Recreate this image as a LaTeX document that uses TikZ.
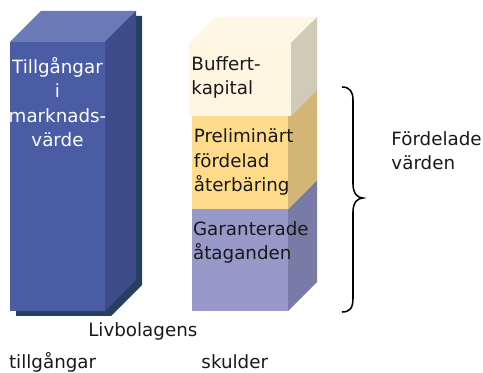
\documentclass[tikz,border=0pt]{standalone}
\usepackage{fontspec}
\setmainfont{DejaVu Sans}
\definecolor{assetfront}{HTML}{4A5CA3}
\definecolor{assettop}{HTML}{6A7BB8}
\definecolor{assetside}{HTML}{3D4B8B}
\definecolor{assetshadow}{HTML}{26405F}
\definecolor{bufffront}{HTML}{FFF5E1}
\definecolor{buffside}{HTML}{D1CAB6}
\definecolor{prelfront}{HTML}{FFDC8B}
\definecolor{prelside}{HTML}{D3B676}
\definecolor{garfront}{HTML}{9799C8}
\definecolor{garside}{HTML}{787BA5}
\begin{document}
\begin{tikzpicture}[
    lbl/.style={font=\fontsize{13}{17.5}\selectfont, anchor=base west, align=left, inner sep=0pt, text=black!90}
  ]
        \useasboundingbox (0,0) rectangle (12.075,9.3);

        % tillgangar
        \fill[assetshadow] (0.4,1.4) -- (2.775,1.4) -- (3.55,2.175) -- (3.55,8.9) -- (1.175,8.9) -- (0.4,8.125) -- cycle;
        \fill[assetfront] (0.25,1.525) rectangle (2.625,8.25);
        \fill[assettop] (0.25,8.25) -- (2.625,8.25) -- (3.4,9.025) -- (1.025,9.025) -- cycle;
        \fill[assetside] (2.625,1.525) -- (3.4,2.3) -- (3.4,9.025) -- (2.625,8.25) -- cycle;

        % skulder
        \fill[garfront] (4.8,1.525) rectangle (7.2,4.075);
        \fill[garside] (7.2,1.525) -- (7.925,2.25) -- (7.925,4.8) -- (7.2,4.075) -- cycle;
        \fill[prelfront] (4.8,4.075) rectangle (7.2,6.4);
        \fill[prelfront] (4.8,6.4) -- (7.2,6.4) -- (7.925,7.125) -- (5.525,7.125) -- cycle;
        \fill[prelside] (7.2,4.075) -- (7.925,4.8) -- (7.925,7.125) -- (7.2,6.4) -- cycle;
        \fill[bufffront] (4.725,6.4) rectangle (7.275,8.225);
        \fill[bufffront!85!white] (4.725,8.225) -- (7.275,8.225) -- (7.925,8.875) -- (5.375,8.875) -- cycle;
        \fill[buffside] (7.275,6.4) -- (7.925,7.05) -- (7.925,8.875) -- (7.275,8.225) -- cycle;

        % klammer
        \draw[line width=1.1pt] (8.55,7.125) .. controls (8.75,7.125) and (8.825,7.0) .. (8.825,6.8)
            -- (8.825,4.7) .. controls (8.825,4.45) and (8.95,4.35) .. (9.075,4.35)
            .. controls (8.95,4.35) and (8.825,4.25) .. (8.825,4.0)
            -- (8.825,1.85) .. controls (8.825,1.6) and (8.75,1.5) .. (8.55,1.5);

        % base = last line
        \node[lbl, anchor=base, align=center, text=white] (assets) at (1.4375,5.625) {Tillgångar\\i\\marknads-\\värde};
        \node[lbl] (buffer) at (4.78,6.925) {Buffert-\\kapital};
        \node[lbl] (bonus) at (4.84,4.5) {Preliminärt\\fördelad\\återbäring};
        \node[lbl] (guar) at (4.82,2.8) {Garanterade\\åtaganden};
        \node[lbl] (distr) at (9.78,5.05) {Fördelade\\värden};
        \node[lbl] (title) at (2.2,0.9) {Livbolagens};
        \node[lbl] (left) at (0.22,0.1) {tillgångar};
        \node[lbl] (right) at (5.03,0.1) {skulder};

    \end{tikzpicture}
\end{document}
